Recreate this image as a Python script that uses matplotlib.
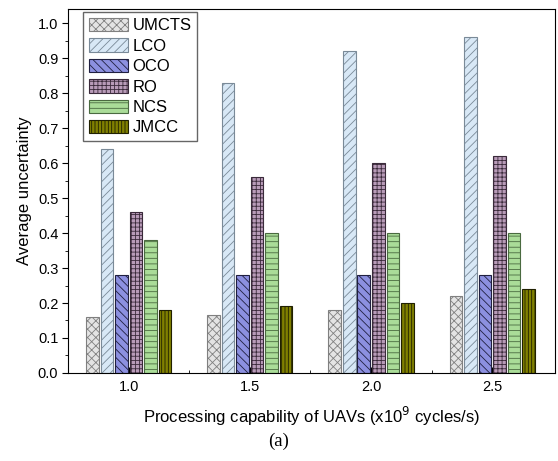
import numpy as np
import matplotlib.pyplot as plt

plt.rcParams['font.family'] = ['Liberation Sans', 'DejaVu Sans']
plt.rcParams['hatch.linewidth'] = 0.6

capability = [1.0, 1.5, 2.0, 2.5]
methods = ['UMCTS', 'LCO', 'OCO', 'RO', 'NCS', 'JMCC']
umcts = [0.16, 0.165, 0.18, 0.22]
lco = [0.64, 0.83, 0.92, 0.96]
oco = [0.28, 0.28, 0.28, 0.28]
ro = [0.46, 0.56, 0.60, 0.62]
ncs = [0.38, 0.40, 0.40, 0.40]
jmcc = [0.18, 0.19, 0.20, 0.24]

values = [umcts, lco, oco, ro, ncs, jmcc]
faces = ['#e4e4e4', '#d8e8f6', '#8c90e0', '#b89bb8', '#aadc98', '#808000']
edges = ['#808080', '#7a8a98', '#202040', '#3a2a3a', '#4a6a40', '#202000']
hatches = ['xxxx', '////', '\\\\\\\\', '++++', '---', '|||||']

fig = plt.figure(figsize=(5.58, 4.61), dpi=100)
ax = fig.add_axes([0.122, 0.191, 0.873, 0.789])

x = np.array(capability)
w = 0.052
step = 0.06
for i in range(6):
    ax.bar(x + (i - 2.5) * step, values[i], width=w, color=faces[i],
           edgecolor=edges[i], hatch=hatches[i], linewidth=0.8, label=methods[i], zorder=2)

ax.set_xlim(0.75, 2.76)
ax.set_ylim(0, 1.04)
ax.set_xticks(capability)
ax.set_xticklabels(['1.0', '1.5', '2.0', '2.5'])
ax.set_xticks([1.25, 1.75, 2.25], minor=True)
ax.set_yticks(np.arange(0, 1.01, 0.1))
ax.set_yticklabels(['%.1f' % v for v in np.arange(0, 1.01, 0.1)])
ax.set_yticks(np.arange(0.05, 1.0, 0.1), minor=True)
ax.tick_params(axis='x', direction='in', length=4, labelsize=10.5, pad=5)
ax.tick_params(axis='x', which='minor', direction='in', length=2)
ax.tick_params(axis='y', direction='out', length=4, labelsize=10.5, pad=3)
ax.tick_params(axis='y', which='minor', direction='out', length=2)

ax.set_ylabel('Average uncertainty', fontsize=12, labelpad=4)
ax.set_xlabel('Processing capability of UAVs (x10$^9$ cycles/s)', fontsize=12, labelpad=8)
fig.text(0.5, 0.032, '(a)', ha='center', fontsize=13.5, family='Liberation Serif')

ax.legend(loc='upper left', bbox_to_anchor=(0.031, 0.992), fancybox=False, edgecolor='#404040',
          fontsize=12, handlelength=2.35, handleheight=0.85, labelspacing=0.3,
          borderpad=0.35, handletextpad=0.25, borderaxespad=0)

fig.savefig('out.png', dpi=100)
